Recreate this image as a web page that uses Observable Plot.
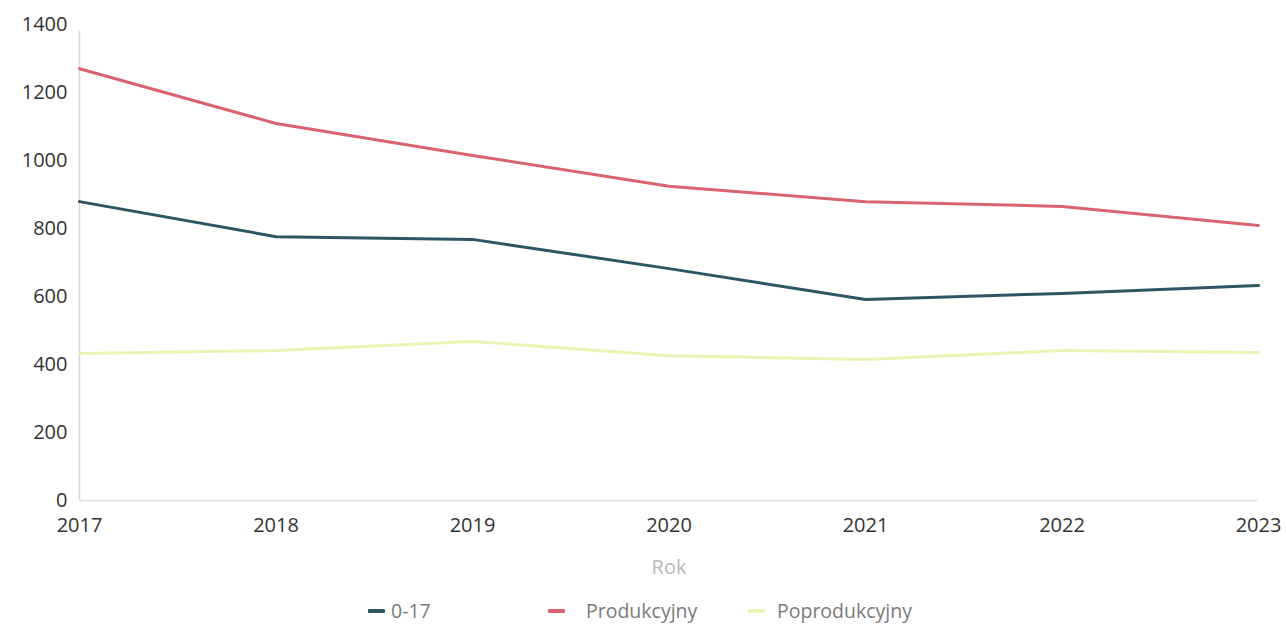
<!DOCTYPE html>
<html>
<head>
<meta charset="utf-8">
<script src="https://cdn.jsdelivr.net/npm/d3@7"></script>
<script src="https://cdn.jsdelivr.net/npm/@observablehq/plot@0.6"></script>
<style>
  html, body { margin: 0; padding: 0; background: #fff; }
  body { width: 1286px; height: 624px; overflow: hidden; font-family: "Open Sans", sans-serif; }
  #chart { position: relative; }
  #legend { position: absolute; left: 0; top: 596px; width: 1286px; height: 28px; font-family: "Open Sans", sans-serif; font-size: 19.5px; color: #7a7a7a; }
  .sw { position: absolute; top: 13px; width: 17px; height: 4px; border-radius: 1px; }
  .tx { position: absolute; top: 1px; white-space: nowrap; }
</style>
</head>
<body>
<div id="chart"></div>
<div id="legend"></div>
<script>
const years = [2017, 2018, 2019, 2020, 2021, 2022, 2023];
const seriesNames = ["0-17", "Produkcyjny", "Poprodukcyjny"];
const values017 = [879, 776, 768, 682, 591, 609, 632];
const valuesProd = [1270, 1109, 1015, 924, 879, 865, 809];
const valuesPoprod = [432, 441, 468, 426, 415, 441, 435];
const colors = ["#2e5662", "#d9646f", "#eef3b5"];
const yTicks = [0, 200, 400, 600, 800, 1000, 1200, 1400];

const seriesValues = [values017, valuesProd, valuesPoprod];
const data = [];
seriesNames.forEach((name, i) => {
  years.forEach((yr, j) => data.push({series: name, year: yr, value: seriesValues[i][j]}));
});

const chart = Plot.plot({
  width: 1286,
  height: 592,
  marginLeft: 79,
  marginRight: 28,
  marginTop: 24,
  marginBottom: 92,
  style: {fontFamily: "'Open Sans', sans-serif", fontSize: "20px", color: "#333", background: "#fff"},
  x: {domain: [2017, 2023], ticks: years, tickFormat: d => String(d), label: null},
  y: {domain: [0, 1400], ticks: yTicks, label: null},
  color: {domain: seriesNames, range: colors},
  marks: [
    Plot.ruleX([2017], {y1: 0, y2: 1380, stroke: "#d6d6d6", strokeWidth: 1.5}),
    Plot.ruleY([0], {stroke: "#e0e0e0", strokeWidth: 1.5}),
    Plot.axisY({ticks: yTicks, tickSize: 0, tickPadding: 12, fontSize: 20, fill: "#333", tickFormat: d => String(d), label: null}),
    Plot.axisX({ticks: years, tickSize: 0, tickPadding: 17, fontSize: 20, fill: "#333", tickFormat: d => String(d), label: null}),
    Plot.text(["Rok"], {frameAnchor: "bottom", dy: 73, fill: "#b8b8b8", fontSize: 20}),
    Plot.line(data, {x: "year", y: "value", z: "series", stroke: "series", strokeWidth: 3, curve: "linear", strokeLinejoin: "round"})
  ]
});
document.getElementById("chart").appendChild(chart);

const legend = document.getElementById("legend");
const swLefts = [368, 548, 748];
const txLefts = [391, 586, 777];
seriesNames.forEach((name, i) => {
  const sw = document.createElement("span");
  sw.className = "sw";
  sw.style.left = swLefts[i] + "px";
  sw.style.background = colors[i];
  const tx = document.createElement("span");
  tx.className = "tx";
  tx.style.left = txLefts[i] + "px";
  tx.textContent = name;
  legend.appendChild(sw);
  legend.appendChild(tx);
});
</script>
</body>
</html>
